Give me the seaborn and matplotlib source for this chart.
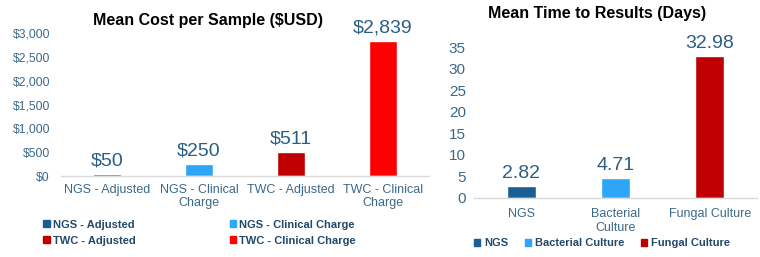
import matplotlib
matplotlib.use("Agg")
import matplotlib.pyplot as plt
import seaborn as sns
from matplotlib.patches import Patch

# data
cost_categories = ["NGS - Adjusted", "NGS - Clinical\nCharge", "TWC - Adjusted", "TWC - Clinical\nCharge"]
cost_legend = ["NGS - Adjusted", "NGS - Clinical Charge", "TWC - Adjusted", "TWC - Clinical Charge"]
cost_values = [50, 250, 511, 2839]
cost_labels = ["$50", "$250", "$511", "$2,839"]
cost_ticks = [0, 500, 1000, 1500, 2000, 2500, 3000]
cost_ticklabels = ["$0", "$500", "$1,000", "$1,500", "$2,000", "$2,500", "$3,000"]

time_categories = ["NGS", "Bacterial\nCulture", "Fungal Culture"]
time_legend = ["NGS", "Bacterial Culture", "Fungal Culture"]
time_values = [2.82, 4.71, 32.98]
time_labels = ["2.82", "4.71", "32.98"]
time_ticks = [0, 5, 10, 15, 20, 25, 30, 35]

cost_colors = ["#1B5E93", "#2EA6F7", "#C00000", "#FF0000"]
time_colors = ["#1B5E93", "#2EA6F7", "#C00000"]

TEXT = "#2B5E84"
TICK = "#3B6989"
LEG = "#23496A"


def main():
    sns.set_theme(style="white")
    plt.rcParams["font.family"] = ["Liberation Sans", "DejaVu Sans"]

    fig = plt.figure(figsize=(7.6, 2.57), dpi=100)
    ax1 = fig.add_axes([0.0803, 0.315, 0.484, 0.556])
    ax2 = fig.add_axes([0.624, 0.2296, 0.372, 0.5875])

    # left chart
    sns.barplot(x=cost_categories, y=cost_values, hue=cost_categories,
                palette=cost_colors, width=0.30, legend=False, ax=ax1,
                saturation=1)
    for cont, lab in zip(ax1.containers, cost_labels):
        ax1.bar_label(cont, labels=[lab], padding=3, fontsize=14, color=TEXT)
    ax1.set_ylim(0, 3000)
    ax1.set_yticks(cost_ticks)
    ax1.set_yticklabels(cost_ticklabels)
    ax1.set_title("Mean Cost per Sample ($USD)", fontsize=11.5, fontweight="bold",
                  color="black", pad=6, x=0.40)
    ax1.tick_params(axis="y", labelsize=8.7, colors=TICK, length=0, pad=8)
    ax1.tick_params(axis="x", labelsize=9, colors=TICK, length=0, pad=6)
    for lbl in ax1.get_xticklabels():
        lbl.set_linespacing(1.1)

    # legend filled row by row like the original
    order = [0, 2, 1, 3]
    handles1 = [Patch(color=cost_colors[i]) for i in order]
    names1 = [cost_legend[i] for i in order]
    leg1 = ax1.legend(handles1, names1, ncol=2, loc="upper left",
                      bbox_to_anchor=(-0.075, -0.235), frameon=False,
                      prop={"size": 8, "weight": "bold"},
                      handlelength=0.55, handleheight=0.55, handletextpad=0.3,
                      columnspacing=8.45, labelspacing=0.55)
    for t in leg1.get_texts():
        t.set_color(LEG)

    # right chart
    sns.barplot(x=time_categories, y=time_values, hue=time_categories,
                palette=time_colors, width=0.31, legend=False, ax=ax2,
                saturation=1)
    for cont, lab in zip(ax2.containers, time_labels):
        ax2.bar_label(cont, labels=[lab], padding=3, fontsize=14, color=TEXT)
    ax2.set_ylim(0, 35)
    ax2.set_yticks(time_ticks)
    ax2.set_title("Mean Time to Results (Days)", fontsize=11.5, fontweight="bold",
                  color="black", pad=21, x=0.435)
    ax2.tick_params(axis="y", labelsize=11, colors=TICK, length=0, pad=6)
    ax2.tick_params(axis="x", labelsize=9, colors=TICK, length=0, pad=7)

    handles2 = [Patch(color=c) for c in time_colors]
    leg2 = ax2.legend(handles2, time_legend, ncol=3, loc="upper left",
                      bbox_to_anchor=(-0.035, -0.2), frameon=False,
                      prop={"size": 8, "weight": "bold"},
                      handlelength=0.55, handleheight=0.55, handletextpad=0.3,
                      columnspacing=1.55)
    for t in leg2.get_texts():
        t.set_color(LEG)

    for ax in (ax1, ax2):
        for side in ("top", "right", "left"):
            ax.spines[side].set_visible(False)
        ax.spines["bottom"].set_color("#D9D9D9")
        ax.spines["bottom"].set_linewidth(1)
        ax.set_xlabel("")
        ax.set_ylabel("")

    fig.savefig("out.png", dpi=100)
    plt.close(fig)


if __name__ == "__main__":
    main()
